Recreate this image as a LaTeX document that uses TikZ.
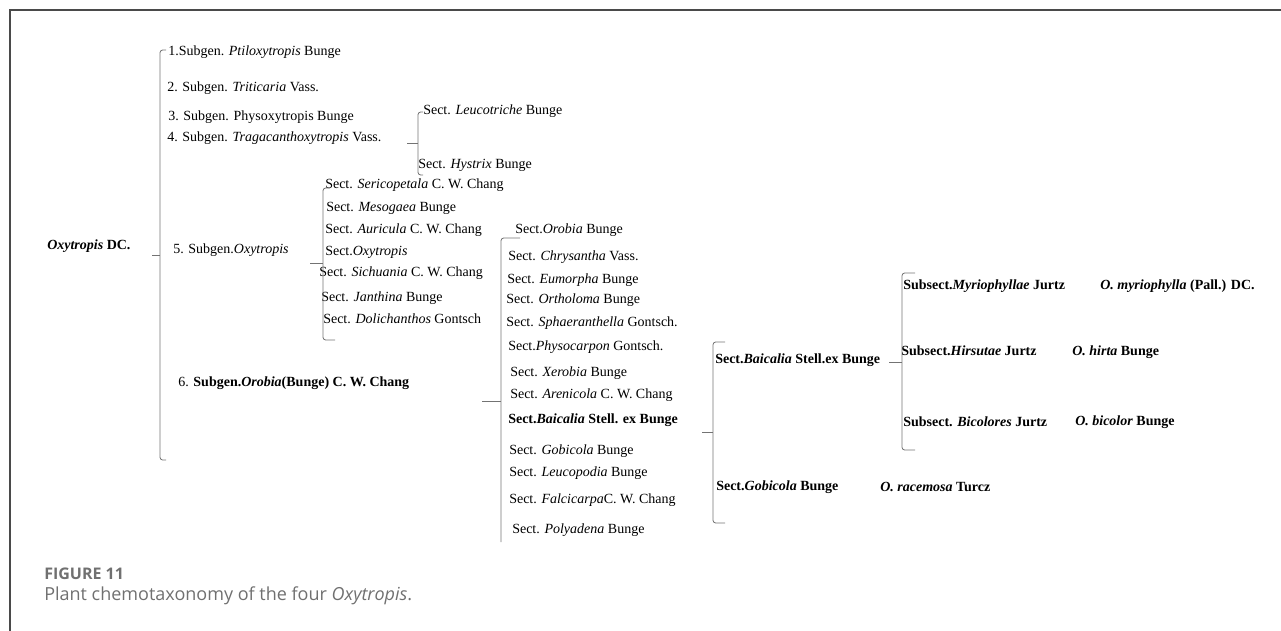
\documentclass[tikz,border=0pt]{standalone}
\usepackage{fontspec}
\setmainfont{Liberation Serif}
\newfontfamily\capfont{Open Sans}
\definecolor{framegray}{HTML}{4A4A4A}
\definecolor{capgray}{HTML}{707070}

\begin{document}
\begin{tikzpicture}[
        x=0.75pt, y=-0.75pt,
        taxon/.style={anchor=west, inner sep=0pt, font=\fontsize{10.5}{12}\selectfont},
        brace/.style={draw=black!55, line width=0.6pt, rounded corners=2pt},
        frame/.style={draw=framegray, line width=1.4pt},
        caption/.style={anchor=west, inner sep=0pt, text=capgray, font=\capfont\fontsize{13.5}{16}\selectfont},
    ]
    \useasboundingbox (0,0) rectangle (1281,631);

        % Frame of the figure panel
        \draw[frame] (10,631) -- (10,10) -- (1281,10);

        % Root of the tree
        \node[taxon] (root) at (47,246) {\textbf{\textit{Oxytropis} DC.}};

        % Draw the subgenera
        \foreach \name/\x/\y/\txt in {
                1/168/52/{1.Subgen. \textit{Ptiloxytropis} Bunge},
                2/167/88/{2. Subgen. \textit{Triticaria} Vass.},
                3/168/117/{3. Subgen. Physoxytropis Bunge},
                4/167/138/{4. Subgen. \textit{Tragacanthoxytropis} Vass.},
                5/173/250/{5. Subgen.\textit{Oxytropis}},
                6/178/383/{6. \textbf{Subgen.\textit{Orobia}(Bunge) C. W. Chang}}}
            \node[taxon] (G-\name) at (\x,\y) {\txt};

        % Sections of subgen. Tragacanthoxytropis
        \foreach \name/\x/\y/\txt in {
                1/423/111/{Sect. \textit{Leucotriche} Bunge},
                2/418/165/{Sect. \textit{Hystrix} Bunge}}
            \node[taxon] (T-\name) at (\x,\y) {\txt};

        % Sections of subgen. Oxytropis
        \foreach \name/\x/\y/\txt in {
                1/325/185/{Sect. \textit{Sericopetala} C. W. Chang},
                2/326/208/{Sect. \textit{Mesogaea} Bunge},
                3/325/230/{Sect. \textit{Auricula} C. W. Chang},
                4/325/252/{Sect.\textit{Oxytropis}},
                5/319/273/{Sect. \textit{Sichuania} C. W. Chang},
                6/321/298/{Sect. \textit{Janthina} Bunge},
                7/323/319/{Sect. \textit{Dolichanthos} Gontsch}}
            \node[taxon] (X-\name) at (\x,\y) {\txt};

        % Sections of subgen. Orobia
        \foreach \name/\x/\y/\txt in {
                1/515/230/{Sect.\textit{Orobia} Bunge},
                2/508/257/{Sect. \textit{Chrysantha} Vass.},
                3/507/280/{Sect. \textit{Eumorpha} Bunge},
                4/506/300/{Sect. \textit{Ortholoma} Bunge},
                5/506/323/{Sect. \textit{Sphaeranthella} Gontsch.},
                6/508/347/{Sect.\textit{Physocarpon} Gontsch.},
                7/510/373/{Sect. \textit{Xerobia} Bunge},
                8/510/395/{Sect. \textit{Arenicola} C. W. Chang},
                9/508/420/{\textbf{Sect.\textit{Baicalia} Stell. ex Bunge}},
                10/509/451/{Sect. \textit{Gobicola} Bunge},
                11/509/473/{Sect. \textit{Leucopodia} Bunge},
                12/509/500/{Sect. \textit{Falcicarpa}C. W. Chang},
                13/512/530/{Sect. \textit{Polyadena} Bunge}}
            \node[taxon] (R-\name) at (\x,\y) {\txt};

        % The two sections studied
        \node[taxon] (B-1) at (715,360) {\textbf{Sect.\textit{Baicalia} Stell.ex Bunge}};
        \node[taxon] (B-2) at (716,487) {\textbf{Sect.\textit{Gobicola} Bunge}};

        % Subsections of sect. Baicalia
        \foreach \name/\x/\y/\txt in {
                1/903/286/{Subsect.\textit{Myriophyllae} Jurtz},
                2/901/351/{Subsect.\textit{Hirsutae} Jurtz},
                3/903/422/{Subsect. \textit{Bicolores} Jurtz}}
            \node[taxon, font=\fontsize{10.5}{12}\selectfont\bfseries] (M-\name) at (\x,\y) {\txt};

        % Species
        \foreach \name/\x/\y/\txt in {
                1/1100/286/{\textit{O. myriophylla} (Pall.) DC.},
                2/1072/352/{\textit{O. hirta} Bunge},
                3/1075/422/{\textit{O. bicolor} Bunge},
                4/880/487/{\textit{O. racemosa} Turcz}}
            \node[taxon, font=\fontsize{10.5}{12}\selectfont\bfseries] (P-\name) at (\x,\y) {\txt};

        % Brace tips
        \coordinate (root-tip) at (152,255);
        \coordinate (G-4-tip) at (407,143);
        \coordinate (G-5-tip) at (310,263);
        \coordinate (G-6-tip) at (482,401);
        \coordinate (R-9-tip) at (702,432);
        \coordinate (B-1-tip) at (889,362);

        % Braces
        \draw[brace] (root-tip) -- (160,255);
        \draw[brace] (166,50) -- (160,50) -- (160,460) -- (166,460);
        \draw[brace] (G-4-tip) -- (418,143);
        \draw[brace] (423,112) -- (418,112) -- (418,175) -- (423,175);
        \draw[brace] (G-5-tip) -- (323,263);
        \draw[brace] (330,188) -- (323,188) -- (323,340) -- (335,340);
        \draw[brace] (G-6-tip) -- (501,401);
        \draw[brace] (520,238) -- (501,238) -- (501,542);
        \draw[brace] (R-9-tip) -- (713,432);
        \draw[brace] (725,342) -- (713,342) -- (713,523) -- (725,523);
        \draw[brace] (B-1-tip) -- (902,362);
        \draw[brace] (915,273) -- (902,273) -- (902,450) -- (915,450);

        % Caption
        \node[caption, font=\capfont\fontsize{12}{14}\selectfont\bfseries] (fig) at (44,574) {FIGURE 11};
        \node[caption] (cap) at (44,596) {Plant chemotaxonomy of the four \textit{Oxytropis}.};
\end{tikzpicture}
\end{document}
